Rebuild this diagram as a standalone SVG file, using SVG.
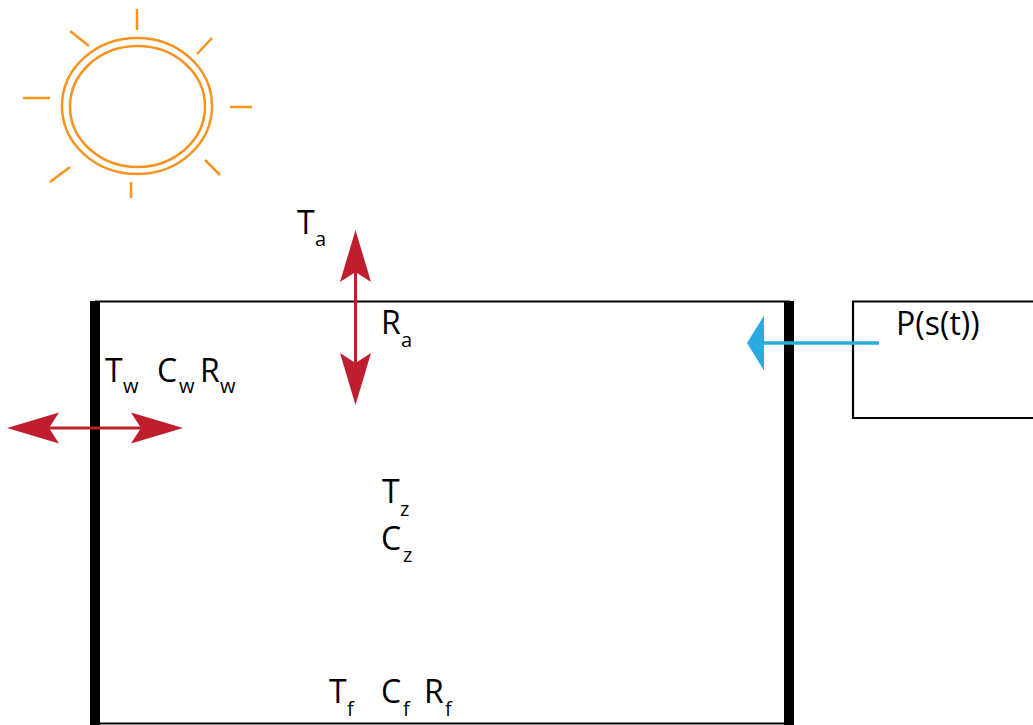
<svg xmlns="http://www.w3.org/2000/svg" width="1033" height="725" viewBox="0 0 1033 725">
<style>
.sun{fill:none;stroke:#f7931e;stroke-width:2.5}
.thin{fill:none;stroke:#000;stroke-width:2.2}
.wall{fill:#000}
.red{stroke:#be1e2d;stroke-width:3;fill:none}
.blue{stroke:#29abe2;stroke-width:3.5;fill:none}
text{font-family:"Open Sans","Noto Sans",sans-serif;font-size:32px;fill:#000}
.s{font-size:20px}
</style>
<defs>
<marker id="redHead" markerUnits="userSpaceOnUse" markerWidth="52" markerHeight="32" refX="10" refY="16" orient="auto-start-reverse" viewBox="0 0 52 32"><path d="M52 16L0 0.5L10 16L0 31.5Z" fill="#be1e2d"/></marker>
<marker id="blueHead" markerUnits="userSpaceOnUse" markerWidth="18" markerHeight="56" refX="0" refY="28" orient="auto" viewBox="0 0 18 56"><path d="M0 0.5L17 28L0 55.5Z" fill="#29abe2"/></marker>
</defs>
<g id="sun">
<ellipse class="sun" cx="137" cy="106" rx="75" ry="68"/>
<ellipse class="sun" cx="137.500" cy="106.500" rx="67.500" ry="60.500"/>
<path class="sun" d="M137 9V30M70 31L89 46M212 38L197 54M23 98H50M230 107H252M205 160L220 175M131 182V198M70 167L50 182"/>
</g>
<g id="room">
<path class="thin" d="M95 301.500H790M95 723.500H790"/>
<rect class="wall" x="90" y="301" width="10" height="424"/>
<rect class="wall" x="784" y="301" width="10" height="424"/>
</g>
<g id="source">
<path class="thin" d="M1033 301.500H853V418H1033"/>
<text x="896" y="335">P(s(t))</text>
</g>
<g id="connectors">
<path class="red" d="M355.500 272V363" marker-start="url(#redHead)" marker-end="url(#redHead)"/>
<path class="red" d="M49 428H141" marker-start="url(#redHead)" marker-end="url(#redHead)"/>
<path class="blue" d="M879 343H764" marker-end="url(#blueHead)"/>
</g>
<g id="labels">
<text x="297" y="234">T</text><text class="s" x="315" y="246">a</text>
<text x="381" y="334">R</text><text class="s" x="401" y="347">a</text>
<text x="105" y="382">T</text><text class="s" x="123" y="393">w</text>
<text x="157" y="382">C</text><text class="s" x="179" y="393">w</text>
<text x="200" y="382">R</text><text class="s" x="220" y="393">w</text>
<text x="382" y="503">T</text><text class="s" x="400" y="516">z</text>
<text x="381" y="550">C</text><text class="s" x="403" y="562">z</text>
<text x="329" y="703">T</text><text class="s" x="347" y="716">f</text>
<text x="381" y="703">C</text><text class="s" x="403" y="716">f</text>
<text x="424" y="703">R</text><text class="s" x="445" y="716">f</text>
</g>
</svg>
